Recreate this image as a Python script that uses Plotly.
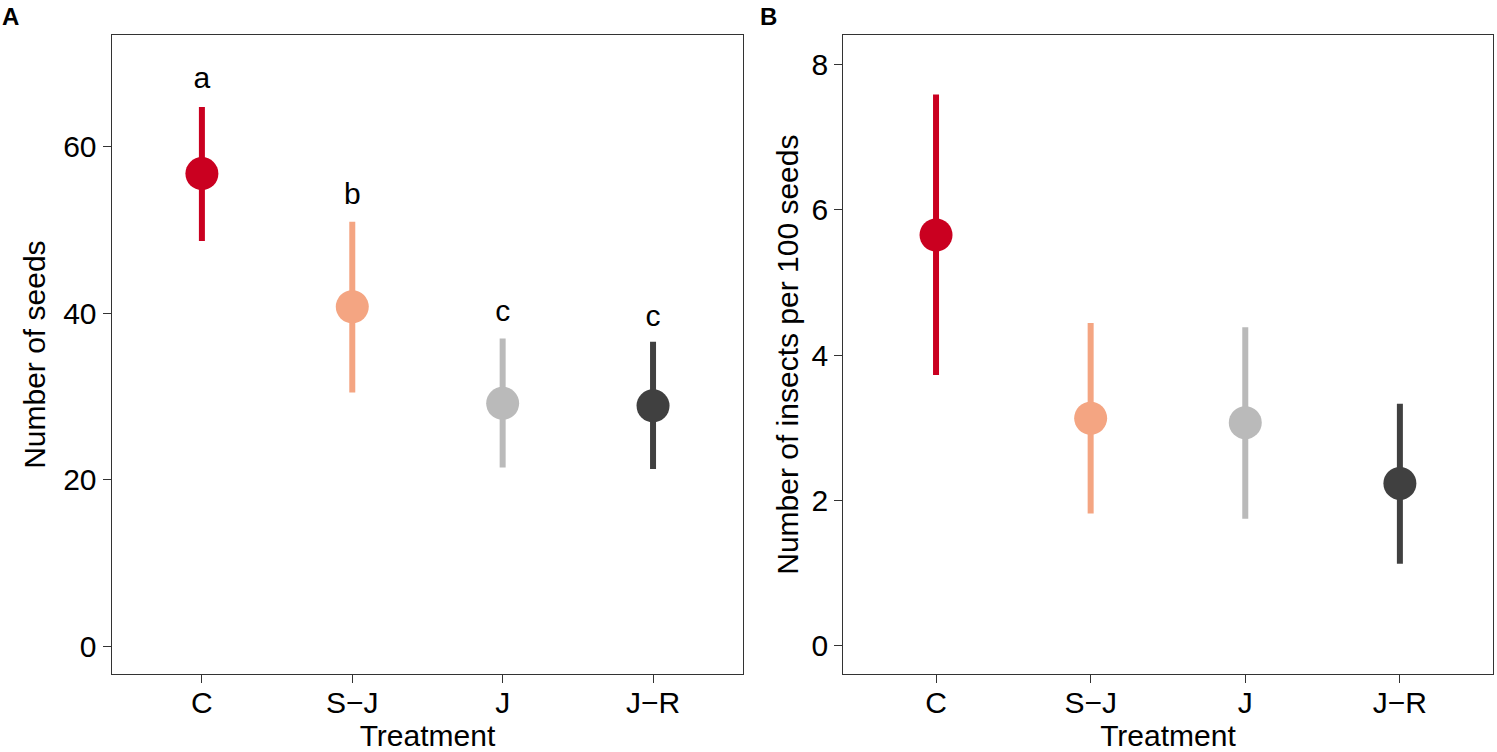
import plotly.graph_objects as go
from plotly.subplots import make_subplots

treatments = ['C', 'S−J', 'J', 'J−R']
colors = ['#ca0020', '#f4a582', '#bababa', '#404040']

# panel A: number of seeds
seeds_mean = [56.8, 40.8, 29.2, 28.9]
seeds_low = [48.7, 30.5, 21.5, 21.3]
seeds_high = [64.8, 51.0, 37.0, 36.6]
seeds_letters = ['a', 'b', 'c', 'c']
seeds_letter_y = [68.0, 54.0, 40.0, 39.4]

# panel B: insects per 100 seeds
insects_mean = [5.65, 3.13, 3.07, 2.235]
insects_low = [3.725, 1.82, 1.75, 1.13]
insects_high = [7.58, 4.44, 4.38, 3.33]

font = 'Liberation Sans, Arial, sans-serif'

fig = make_subplots(rows=1, cols=2, horizontal_spacing=0.067)


def add_points(mean, low, high, col):
    for i, t in enumerate(treatments):
        fig.add_trace(go.Scatter(
            x=[t], y=[mean[i]],
            mode='markers',
            marker=dict(size=33, color=colors[i], line=dict(width=0)),
            error_y=dict(type='data', symmetric=False,
                         array=[high[i] - mean[i]],
                         arrayminus=[mean[i] - low[i]],
                         thickness=6, width=0, color=colors[i]),
            showlegend=False,
        ), row=1, col=col)


add_points(seeds_mean, seeds_low, seeds_high, 1)
add_points(insects_mean, insects_low, insects_high, 2)

# significance letters
fig.add_trace(go.Scatter(
    x=treatments, y=seeds_letter_y, text=seeds_letters,
    mode='text', textfont=dict(family=font, size=30, color='black'),
    showlegend=False,
), row=1, col=1)

axis_style = dict(
    showline=True, mirror=True, linecolor='#333333', linewidth=1.3,
    ticks='outside', ticklen=8, tickwidth=1.3, tickcolor='#333333',
    showgrid=False, zeroline=False,
    tickfont=dict(family=font, size=30, color='black'),
    title_font=dict(family=font, size=30, color='black'),
)

fig.update_xaxes(**axis_style)
fig.update_yaxes(**axis_style)

fig.update_xaxes(range=[-0.6, 3.6], title_text='Treatment',
                 ticklabelstandoff=-6, title_standoff=10)
fig.update_xaxes(domain=[0.0746, 0.4965], row=1, col=1)
fig.update_xaxes(domain=[0.5633, 0.9971], row=1, col=2)
fig.update_yaxes(domain=[0.1033, 0.9535])

fig.update_yaxes(range=[-3.35, 73.45], tickvals=[0, 20, 40, 60],
                 title_text='Number of seeds', title_standoff=8, row=1, col=1)
fig.update_yaxes(range=[-0.39, 8.40], tickvals=[0, 2, 4, 6, 8],
                 title_text='Number of insects per 100 seeds', title_standoff=3,
                 row=1, col=2)

fig.add_annotation(text='<b>A</b>', x=0.0, y=0.999, xref='paper', yref='paper',
                   xanchor='left', yanchor='top', showarrow=False,
                   font=dict(family=font, size=24, color='black'))
fig.add_annotation(text='<b>B</b>', x=0.5065, y=0.999, xref='paper', yref='paper',
                   xanchor='left', yanchor='top', showarrow=False,
                   font=dict(family=font, size=24, color='black'))

fig.update_layout(
    width=1497, height=752,
    margin=dict(l=0, r=0, t=0, b=0),
    plot_bgcolor='white', paper_bgcolor='white',
    font=dict(family=font, color='black'),
)

# drop the default page margin so the figure sits at the window's corner
fig.write_html('out.html', config={'displayModeBar': False},
               post_script="document.body.style.margin = '0';")
